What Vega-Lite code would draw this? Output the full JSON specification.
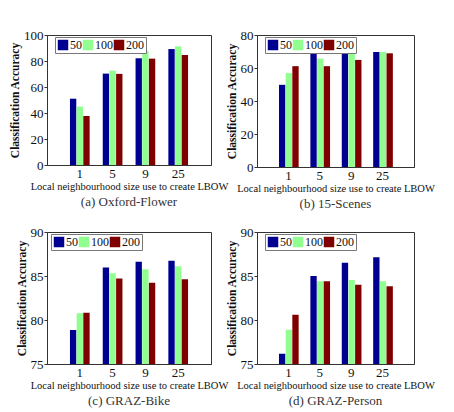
{
  "$schema": "https://vega.github.io/schema/vega-lite/v6.json",
  "background": "white",
  "padding": {"left": 9, "top": 28, "right": 0, "bottom": 0},
  "datasets": {
    "acc": [
      {"panel": "a", "size": "1", "n": "50", "acc": 51.0},
      {"panel": "a", "size": "1", "n": "100", "acc": 44.9},
      {"panel": "a", "size": "1", "n": "200", "acc": 37.7},
      {"panel": "a", "size": "5", "n": "50", "acc": 70.3},
      {"panel": "a", "size": "5", "n": "100", "acc": 72.6},
      {"panel": "a", "size": "5", "n": "200", "acc": 70.1},
      {"panel": "a", "size": "9", "n": "50", "acc": 82.1},
      {"panel": "a", "size": "9", "n": "100", "acc": 87.7},
      {"panel": "a", "size": "9", "n": "200", "acc": 81.8},
      {"panel": "a", "size": "25", "n": "50", "acc": 89.2},
      {"panel": "a", "size": "25", "n": "100", "acc": 91.3},
      {"panel": "a", "size": "25", "n": "200", "acc": 84.6},
      {"panel": "b", "size": "1", "n": "50", "acc": 49.8},
      {"panel": "b", "size": "1", "n": "100", "acc": 56.9},
      {"panel": "b", "size": "1", "n": "200", "acc": 61.1},
      {"panel": "b", "size": "5", "n": "50", "acc": 69.3},
      {"panel": "b", "size": "5", "n": "100", "acc": 65.7},
      {"panel": "b", "size": "5", "n": "200", "acc": 61.1},
      {"panel": "b", "size": "9", "n": "50", "acc": 69.3},
      {"panel": "b", "size": "9", "n": "100", "acc": 69.3},
      {"panel": "b", "size": "9", "n": "200", "acc": 64.9},
      {"panel": "b", "size": "25", "n": "50", "acc": 69.7},
      {"panel": "b", "size": "25", "n": "100", "acc": 69.7},
      {"panel": "b", "size": "25", "n": "200", "acc": 68.9},
      {"panel": "c", "size": "1", "n": "50", "acc": 78.86},
      {"panel": "c", "size": "1", "n": "100", "acc": 80.76},
      {"panel": "c", "size": "1", "n": "200", "acc": 80.83},
      {"panel": "c", "size": "5", "n": "50", "acc": 85.98},
      {"panel": "c", "size": "5", "n": "100", "acc": 85.3},
      {"panel": "c", "size": "5", "n": "200", "acc": 84.73},
      {"panel": "c", "size": "9", "n": "50", "acc": 86.63},
      {"panel": "c", "size": "9", "n": "100", "acc": 85.76},
      {"panel": "c", "size": "9", "n": "200", "acc": 84.24},
      {"panel": "c", "size": "25", "n": "50", "acc": 86.74},
      {"panel": "c", "size": "25", "n": "100", "acc": 86.1},
      {"panel": "c", "size": "25", "n": "200", "acc": 84.62},
      {"panel": "d", "size": "1", "n": "50", "acc": 76.17},
      {"panel": "d", "size": "1", "n": "100", "acc": 78.9},
      {"panel": "d", "size": "1", "n": "200", "acc": 80.6},
      {"panel": "d", "size": "5", "n": "50", "acc": 85.0},
      {"panel": "d", "size": "5", "n": "100", "acc": 84.39},
      {"panel": "d", "size": "5", "n": "200", "acc": 84.39},
      {"panel": "d", "size": "9", "n": "50", "acc": 86.5},
      {"panel": "d", "size": "9", "n": "100", "acc": 84.55},
      {"panel": "d", "size": "9", "n": "200", "acc": 84.0},
      {"panel": "d", "size": "25", "n": "50", "acc": 87.12},
      {"panel": "d", "size": "25", "n": "100", "acc": 84.39},
      {"panel": "d", "size": "25", "n": "200", "acc": 83.83}
    ]
  },
  "columns": 2,
  "bounds": "flush",
  "spacing": {"row": 65, "column": 46},
  "resolve": {
    "scale": {"color": "independent", "y": "independent"},
    "legend": {"color": "independent"}
  },
  "concat": [
    {
      "width": 164, "height": 130,
      "data": {"name": "acc"},
      "transform": [{"filter": "datum.panel === 'a'"}],
      "title": {"text": "(a) Oxford-Flower"},
      "mark": {"type": "bar"},
      "encoding": {
        "x": {"field": "size", "type": "nominal", "sort": ["1", "5", "9", "25"],
              "scale": {"paddingInner": 0.4, "paddingOuter": 0.7},
              "axis": {"title": "Local neighbourhood size use to create LBOW"}},
        "xOffset": {"field": "n", "type": "nominal", "sort": ["50", "100", "200"], "scale": {"paddingInner": 0.05}},
        "y": {"field": "acc", "type": "quantitative",
              "scale": {"domain": [0, 100], "nice": false, "zero": false},
              "axis": {"values": [0, 20, 40, 60, 80, 100], "title": "Classification Accuracy"}},
        "color": {"field": "n", "type": "nominal", "sort": ["50", "100", "200"],
                  "scale": {"domain": ["50", "100", "200"], "range": ["#000090", "#90FF90", "#800000"]},
                  "legend": {"legendX": 8, "legendY": 2}}
      }
    },
    {
      "width": 157, "height": 132,
      "data": {"name": "acc"},
      "transform": [{"filter": "datum.panel === 'b'"}],
      "title": {"text": "(b) 15-Scenes"},
      "mark": {"type": "bar"},
      "encoding": {
        "x": {"field": "size", "type": "nominal", "sort": ["1", "5", "9", "25"],
              "scale": {"paddingInner": 0.4, "paddingOuter": 0.7},
              "axis": {"title": "Local neighbourhood size use to create LBOW"}},
        "xOffset": {"field": "n", "type": "nominal", "sort": ["50", "100", "200"], "scale": {"paddingInner": 0.05}},
        "y": {"field": "acc", "type": "quantitative",
              "scale": {"domain": [0, 80], "nice": false, "zero": false},
              "axis": {"values": [0, 20, 40, 60, 80], "title": "Classification Accuracy"}},
        "color": {"field": "n", "type": "nominal", "sort": ["50", "100", "200"],
                  "scale": {"domain": ["50", "100", "200"], "range": ["#000090", "#90FF90", "#800000"]},
                  "legend": {"legendX": 8, "legendY": 2}}
      }
    },
    {
      "width": 164, "height": 132,
      "data": {"name": "acc"},
      "transform": [{"filter": "datum.panel === 'c'"}],
      "title": {"text": "(c) GRAZ-Bike"},
      "mark": {"type": "bar", "clip": true},
      "encoding": {
        "x": {"field": "size", "type": "nominal", "sort": ["1", "5", "9", "25"],
              "scale": {"paddingInner": 0.4, "paddingOuter": 0.7},
              "axis": {"title": "Local neighbourhood size use to create LBOW"}},
        "xOffset": {"field": "n", "type": "nominal", "sort": ["50", "100", "200"], "scale": {"paddingInner": 0.05}},
        "y": {"field": "acc", "type": "quantitative",
              "scale": {"domain": [75, 90], "nice": false, "zero": false},
              "axis": {"values": [75, 80, 85, 90], "title": "Classification Accuracy"}},
        "color": {"field": "n", "type": "nominal", "sort": ["50", "100", "200"],
                  "scale": {"domain": ["50", "100", "200"], "range": ["#000090", "#90FF90", "#800000"]},
                  "legend": {"legendX": 4, "legendY": 2}}
      }
    },
    {
      "width": 157, "height": 132,
      "data": {"name": "acc"},
      "transform": [{"filter": "datum.panel === 'd'"}],
      "title": {"text": "(d) GRAZ-Person"},
      "mark": {"type": "bar", "clip": true},
      "encoding": {
        "x": {"field": "size", "type": "nominal", "sort": ["1", "5", "9", "25"],
              "scale": {"paddingInner": 0.4, "paddingOuter": 0.7},
              "axis": {"title": "Local neighbourhood size use to create LBOW"}},
        "xOffset": {"field": "n", "type": "nominal", "sort": ["50", "100", "200"], "scale": {"paddingInner": 0.05}},
        "y": {"field": "acc", "type": "quantitative",
              "scale": {"domain": [75, 90], "nice": false, "zero": false},
              "axis": {"values": [75, 80, 85, 90], "title": "Classification Accuracy"}},
        "color": {"field": "n", "type": "nominal", "sort": ["50", "100", "200"],
                  "scale": {"domain": ["50", "100", "200"], "range": ["#000090", "#90FF90", "#800000"]},
                  "legend": {"legendX": 8, "legendY": 2}}
      }
    }
  ],
  "config": {
    "font": "Liberation Serif",
    "view": {"stroke": "#333", "strokeWidth": 1},
    "bar": {"strokeWidth": 0},
    "axis": {
      "grid": false,
      "domainColor": "#333",
      "tickColor": "#333",
      "tickSize": 3,
      "labelFont": "Liberation Serif",
      "labelFontSize": 13,
      "labelColor": "#111",
      "labelPadding": 1,
      "titleFont": "Liberation Serif",
      "titleColor": "#111"
    },
    "axisX": {
      "labelAngle": 0,
      "ticks": false,
      "labelPadding": 2,
      "titleFontSize": 10.5,
      "titleFontWeight": "normal",
      "titlePadding": 1
    },
    "axisY": {
      "titleFontSize": 11.5,
      "titleFontWeight": "bold",
      "titlePadding": 3
    },
    "legend": {
      "orient": "none",
      "direction": "horizontal",
      "columns": 3,
      "title": null,
      "symbolType": "square",
      "symbolSize": 110,
      "symbolStrokeWidth": 0,
      "symbolOpacity": 1,
      "labelFont": "Liberation Serif",
      "labelFontSize": 12,
      "labelColor": "#111",
      "labelOffset": 1,
      "columnPadding": 0,
      "padding": 2,
      "strokeColor": "#777",
      "fillColor": "white"
    },
    "title": {
      "orient": "bottom",
      "anchor": "middle",
      "font": "Liberation Serif",
      "fontSize": 13,
      "fontWeight": "normal",
      "color": "#333",
      "offset": 4
    }
  }
}
